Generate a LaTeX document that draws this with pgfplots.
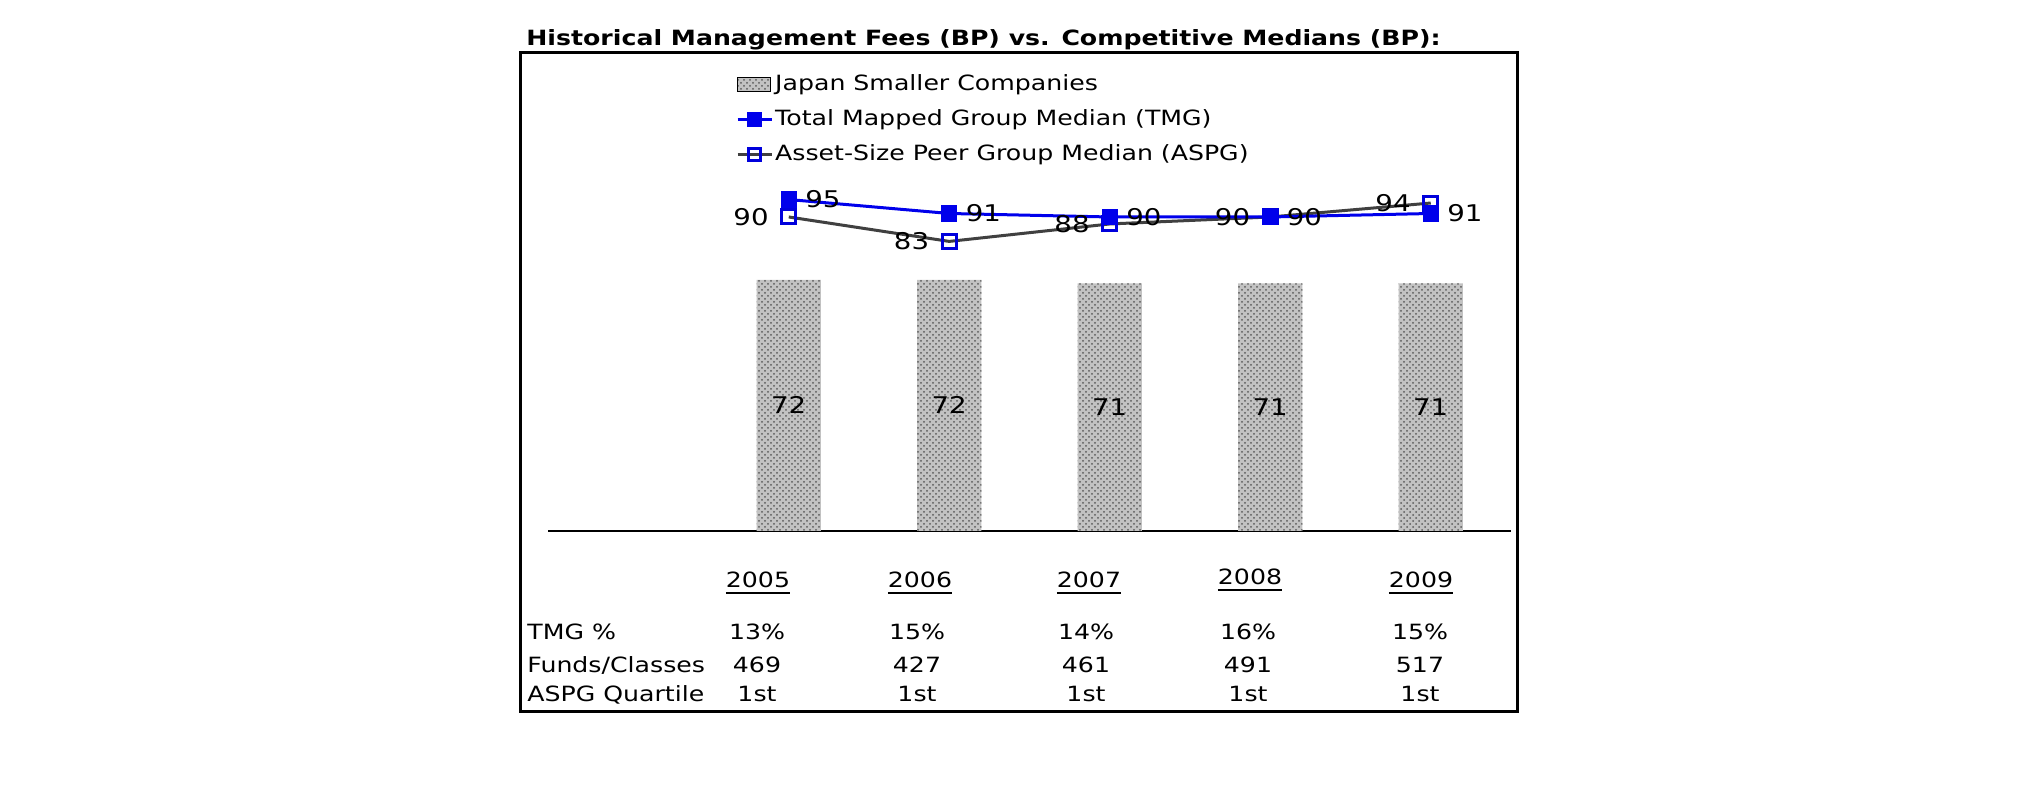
\documentclass[border=0pt]{standalone}
\usepackage{fontspec}
\setmainfont{DejaVu Sans}[FakeStretch=1.2]
\usepackage{pgfplots}
\pgfplotsset{compat=1.18}
\usetikzlibrary{patterns}
\definecolor{tmgblue}{RGB}{0,0,235}
\definecolor{aspggray}{RGB}{64,64,64}
\definecolor{mkblue}{RGB}{0,0,220}
\newcommand\tf{\fontsize{10.5}{12.5}\selectfont}
\newcommand\lf{\fontsize{11.5}{13.5}\selectfont}
\newcommand\ul[1]{\leavevmode\vtop{\hbox{#1}\kern2pt\hrule height 0.9pt}}
\begin{document}
\begin{tikzpicture}
\begin{scope}[x=0.5pt,y=0.5pt]
\useasboundingbox (0,0) rectangle (2025,-806);
\node[anchor=base west, inner sep=0pt, font=\fontsize{10.5}{12.5}\selectfont\bfseries] at (526,-46) {Historical Management Fees (BP) vs. Competitive Medians (BP):};
\draw[line width=1.5pt] (520,-53) rectangle (1517,-712);
\end{scope}
\begin{axis}[
  at={(274pt,-265.5pt)}, anchor=south west,
  scale only axis, width=481.5pt, height=239pt,
  xmin=-1.5, xmax=4.5, ymin=0, ymax=137,
  axis x line=bottom, axis y line=none,
  axis line style={-, line width=0.8pt, black},
  xtick=\empty, ytick=\empty,
  /pgf/number format/assume math mode=true,
  clip=false,
  legend style={draw=none, fill=none, at={(axis description cs:0.195,0.961)}, anchor=north west,
    inner sep=0pt, row sep=5pt, font=\tf, cells={anchor=west},
    nodes={inner sep=1pt, text height=8pt, text depth=2.5pt}},
]
\addplot[ybar, bar width=0.4, draw=none, fill=black!24,
  postaction={pattern=crosshatch dots, pattern color=black!65}, forget plot,
  nodes near coords, point meta=y, visualization depends on={y \as \rawy},
  every node near coord/.append style={anchor=center, font=\lf, text=black,
    shift={(axis direction cs:0,-\rawy/2)}}]
  coordinates {(0,72) (1,72) (2,71) (3,71) (4,71)};
\addplot[aspggray, line width=1.5pt, mark=square, mark size=3.5pt,
  mark options={draw=mkblue, line width=1.5pt}, forget plot,
  nodes near coords, point meta=y,
  every node near coord/.append style={anchor=east, xshift=-6pt, font=\lf, text=black}]
  coordinates {(0,90) (1,83) (2,88) (3,90) (4,94)};
\addplot[tmgblue, line width=1.5pt, mark=square*, mark size=3.8pt,
  mark options={fill=tmgblue, draw=tmgblue, line width=0pt}, forget plot,
  nodes near coords, point meta=y,
  every node near coord/.append style={anchor=west, xshift=5pt, font=\lf, text=black}]
  coordinates {(0,95) (1,91) (2,90) (3,90) (4,91)};
\addlegendimage{legend image code/.code={
  \fill[black!24] (0pt,-3.5pt) rectangle (16.5pt,3.5pt);
  \fill[pattern=crosshatch dots, pattern color=black!65] (0pt,-3.5pt) rectangle (16.5pt,3.5pt);}}
\addlegendentry{Japan Smaller Companies}
\addlegendimage{legend image code/.code={
  \draw[tmgblue, line width=1.5pt] (0pt,0pt) -- (17pt,0pt);
  \fill[tmgblue] (5pt,-3.5pt) rectangle (12pt,3.5pt);}}
\addlegendentry{Total Mapped Group Median (TMG)}
\addlegendimage{legend image code/.code={
  \draw[aspggray, line width=1.5pt] (0pt,0pt) -- (17pt,0pt);
  \draw[mkblue, line width=1.3pt] (5.5pt,-3pt) rectangle (11.5pt,3pt);}}
\addlegendentry{Asset-Size Peer Group Median (ASPG)}
\end{axis}
% table beneath the chart
\begin{scope}[x=0.5pt,y=0.5pt,every node/.style={inner sep=0pt, font=\tf}]
\node[anchor=base] at (758,-588) {\ul{2005}};
\node[anchor=base] at (920,-588) {\ul{2006}};
\node[anchor=base] at (1089,-588) {\ul{2007}};
\node[anchor=base] at (1250,-585) {\ul{2008}};
\node[anchor=base] at (1421,-588) {\ul{2009}};
\node[anchor=base west] at (527,-640) {TMG \%};
\node[anchor=base west] at (527,-673) {Funds/Classes};
\node[anchor=base west] at (527,-702) {ASPG Quartile};
\node[anchor=base] at (757,-640) {13\%};
\node[anchor=base] at (917,-640) {15\%};
\node[anchor=base] at (1086,-640) {14\%};
\node[anchor=base] at (1248,-640) {16\%};
\node[anchor=base] at (1420,-640) {15\%};
\node[anchor=base] at (757,-673) {469};
\node[anchor=base] at (917,-673) {427};
\node[anchor=base] at (1086,-673) {461};
\node[anchor=base] at (1248,-673) {491};
\node[anchor=base] at (1420,-673) {517};
\node[anchor=base] at (757,-702) {1st};
\node[anchor=base] at (917,-702) {1st};
\node[anchor=base] at (1086,-702) {1st};
\node[anchor=base] at (1248,-702) {1st};
\node[anchor=base] at (1420,-702) {1st};
\end{scope}
\end{tikzpicture}
\end{document}
